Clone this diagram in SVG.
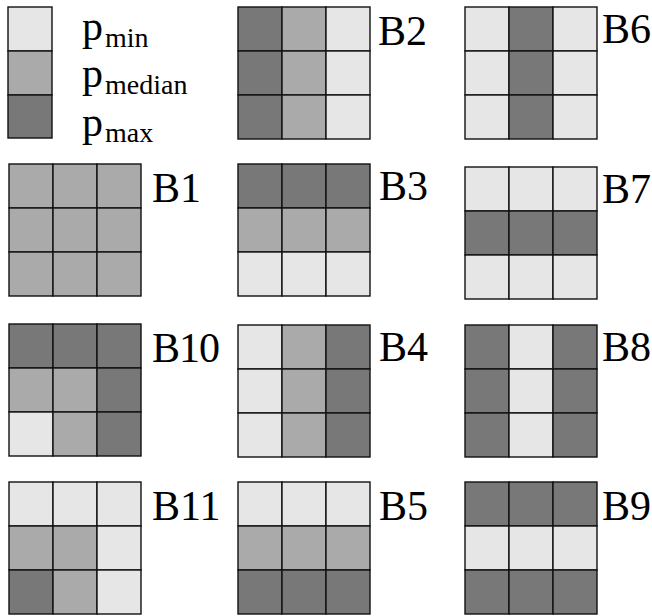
<svg xmlns="http://www.w3.org/2000/svg" width="652" height="616" viewBox="0 0 652 616">
<style>
rect{stroke:#111;stroke-width:1.4}
.l{fill:#e6e6e6}.m{fill:#aaaaaa}.d{fill:#787878}
.lab{font-size:42px;fill:#000}
.sub{font-size:28px}
</style>
<rect width="652" height="616" fill="#fff" style="stroke:none"/>
<g font-family="'Liberation Serif', serif">
<g id="legend">
<rect class="l" x="8" y="7" width="44" height="44"/>
<rect class="m" x="8" y="51" width="44" height="44"/>
<rect class="d" x="8" y="95" width="44" height="43"/>
<text class="lab" font-family="'Liberation Serif', serif" x="82" y="40">p<tspan class="sub" x="105" y="47">min</tspan></text>
<text class="lab" font-family="'Liberation Serif', serif" x="82" y="87">p<tspan class="sub" x="105" y="94">median</tspan></text>
<text class="lab" font-family="'Liberation Serif', serif" x="82" y="136">p<tspan class="sub" x="105" y="142">max</tspan></text>
</g>
<g id="B1" transform="translate(9,164)">
<rect class="m" x="0" y="0" width="44" height="44"/><rect class="m" x="44" y="0" width="44" height="44"/><rect class="m" x="88" y="0" width="44" height="44"/>
<rect class="m" x="0" y="44" width="44" height="44"/><rect class="m" x="44" y="44" width="44" height="44"/><rect class="m" x="88" y="44" width="44" height="44"/>
<rect class="m" x="0" y="88" width="44" height="44"/><rect class="m" x="44" y="88" width="44" height="44"/><rect class="m" x="88" y="88" width="44" height="44"/>
<text class="lab" font-family="'Liberation Serif', serif" x="143" y="38">B1</text>
</g>
<g id="B2" transform="translate(238,7)">
<rect class="d" x="0" y="0" width="44" height="44"/><rect class="m" x="44" y="0" width="44" height="44"/><rect class="l" x="88" y="0" width="44" height="44"/>
<rect class="d" x="0" y="44" width="44" height="44"/><rect class="m" x="44" y="44" width="44" height="44"/><rect class="l" x="88" y="44" width="44" height="44"/>
<rect class="d" x="0" y="88" width="44" height="44"/><rect class="m" x="44" y="88" width="44" height="44"/><rect class="l" x="88" y="88" width="44" height="44"/>
<text class="lab" font-family="'Liberation Serif', serif" x="140" y="38">B2</text>
</g>
<g id="B3" transform="translate(238,164)">
<rect class="d" x="0" y="0" width="44" height="44"/><rect class="d" x="44" y="0" width="44" height="44"/><rect class="d" x="88" y="0" width="44" height="44"/>
<rect class="m" x="0" y="44" width="44" height="44"/><rect class="m" x="44" y="44" width="44" height="44"/><rect class="m" x="88" y="44" width="44" height="44"/>
<rect class="l" x="0" y="88" width="44" height="44"/><rect class="l" x="44" y="88" width="44" height="44"/><rect class="l" x="88" y="88" width="44" height="44"/>
<text class="lab" font-family="'Liberation Serif', serif" x="141" y="36">B3</text>
</g>
<g id="B4" transform="translate(238,325)">
<rect class="l" x="0" y="0" width="44" height="44"/><rect class="m" x="44" y="0" width="44" height="44"/><rect class="d" x="88" y="0" width="44" height="44"/>
<rect class="l" x="0" y="44" width="44" height="44"/><rect class="m" x="44" y="44" width="44" height="44"/><rect class="d" x="88" y="44" width="44" height="44"/>
<rect class="l" x="0" y="88" width="44" height="44"/><rect class="m" x="44" y="88" width="44" height="44"/><rect class="d" x="88" y="88" width="44" height="44"/>
<text class="lab" font-family="'Liberation Serif', serif" x="141" y="36">B4</text>
</g>
<g id="B5" transform="translate(238,482)">
<rect class="l" x="0" y="0" width="44" height="44"/><rect class="l" x="44" y="0" width="44" height="44"/><rect class="l" x="88" y="0" width="44" height="44"/>
<rect class="m" x="0" y="44" width="44" height="44"/><rect class="m" x="44" y="44" width="44" height="44"/><rect class="m" x="88" y="44" width="44" height="44"/>
<rect class="d" x="0" y="88" width="44" height="44"/><rect class="d" x="44" y="88" width="44" height="44"/><rect class="d" x="88" y="88" width="44" height="44"/>
<text class="lab" font-family="'Liberation Serif', serif" x="141" y="38">B5</text>
</g>
<g id="B6" transform="translate(465,7)">
<rect class="l" x="0" y="0" width="44" height="44"/><rect class="d" x="44" y="0" width="44" height="44"/><rect class="l" x="88" y="0" width="44" height="44"/>
<rect class="l" x="0" y="44" width="44" height="44"/><rect class="d" x="44" y="44" width="44" height="44"/><rect class="l" x="88" y="44" width="44" height="44"/>
<rect class="l" x="0" y="88" width="44" height="44"/><rect class="d" x="44" y="88" width="44" height="44"/><rect class="l" x="88" y="88" width="44" height="44"/>
<text class="lab" font-family="'Liberation Serif', serif" x="137" y="36">B6</text>
</g>
<g id="B7" transform="translate(465,167)">
<rect class="l" x="0" y="0" width="44" height="44"/><rect class="l" x="44" y="0" width="44" height="44"/><rect class="l" x="88" y="0" width="44" height="44"/>
<rect class="d" x="0" y="44" width="44" height="44"/><rect class="d" x="44" y="44" width="44" height="44"/><rect class="d" x="88" y="44" width="44" height="44"/>
<rect class="l" x="0" y="88" width="44" height="44"/><rect class="l" x="44" y="88" width="44" height="44"/><rect class="l" x="88" y="88" width="44" height="44"/>
<text class="lab" font-family="'Liberation Serif', serif" x="137" y="36">B7</text>
</g>
<g id="B8" transform="translate(465,325)">
<rect class="d" x="0" y="0" width="44" height="44"/><rect class="l" x="44" y="0" width="44" height="44"/><rect class="d" x="88" y="0" width="44" height="44"/>
<rect class="d" x="0" y="44" width="44" height="44"/><rect class="l" x="44" y="44" width="44" height="44"/><rect class="d" x="88" y="44" width="44" height="44"/>
<rect class="d" x="0" y="88" width="44" height="44"/><rect class="l" x="44" y="88" width="44" height="44"/><rect class="d" x="88" y="88" width="44" height="44"/>
<text class="lab" font-family="'Liberation Serif', serif" x="137" y="36">B8</text>
</g>
<g id="B9" transform="translate(465,482)">
<rect class="d" x="0" y="0" width="44" height="44"/><rect class="d" x="44" y="0" width="44" height="44"/><rect class="d" x="88" y="0" width="44" height="44"/>
<rect class="l" x="0" y="44" width="44" height="44"/><rect class="l" x="44" y="44" width="44" height="44"/><rect class="l" x="88" y="44" width="44" height="44"/>
<rect class="d" x="0" y="88" width="44" height="44"/><rect class="d" x="44" y="88" width="44" height="44"/><rect class="d" x="88" y="88" width="44" height="44"/>
<text class="lab" font-family="'Liberation Serif', serif" x="137" y="38">B9</text>
</g>
<g id="B10" transform="translate(9,324)">
<rect class="d" x="0" y="0" width="44" height="44"/><rect class="d" x="44" y="0" width="44" height="44"/><rect class="d" x="88" y="0" width="44" height="44"/>
<rect class="m" x="0" y="44" width="44" height="44"/><rect class="m" x="44" y="44" width="44" height="44"/><rect class="d" x="88" y="44" width="44" height="44"/>
<rect class="l" x="0" y="88" width="44" height="44"/><rect class="m" x="44" y="88" width="44" height="44"/><rect class="d" x="88" y="88" width="44" height="44"/>
<text class="lab" font-family="'Liberation Serif', serif" x="143" y="38" letter-spacing="-1">B10</text>
</g>
<g id="B11" transform="translate(9,482)">
<rect class="l" x="0" y="0" width="44" height="44"/><rect class="l" x="44" y="0" width="44" height="44"/><rect class="l" x="88" y="0" width="44" height="44"/>
<rect class="m" x="0" y="44" width="44" height="44"/><rect class="m" x="44" y="44" width="44" height="44"/><rect class="l" x="88" y="44" width="44" height="44"/>
<rect class="d" x="0" y="88" width="44" height="44"/><rect class="m" x="44" y="88" width="44" height="44"/><rect class="l" x="88" y="88" width="44" height="44"/>
<text class="lab" font-family="'Liberation Serif', serif" x="143" y="38">B11</text>
</g>
</g>
<g id="connectors"/>
</svg>
